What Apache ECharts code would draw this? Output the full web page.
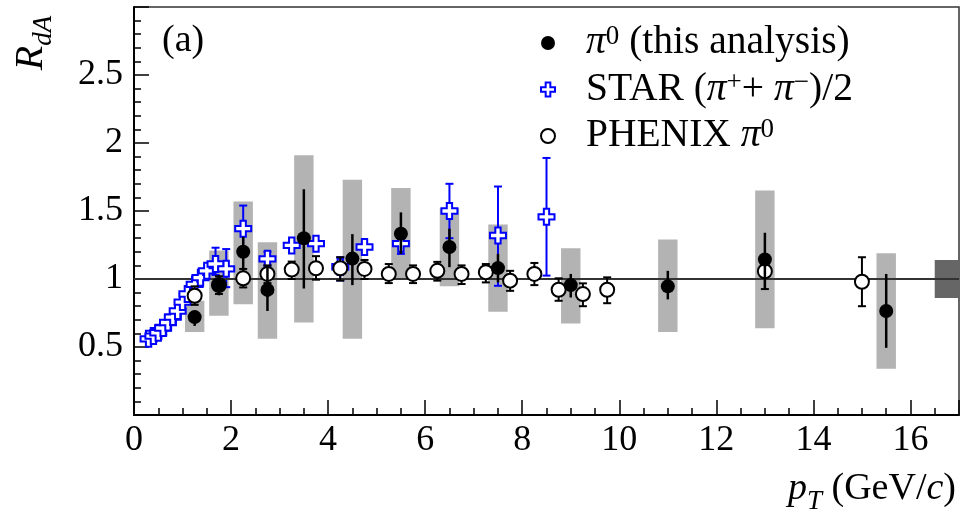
<!DOCTYPE html>
<html><head><meta charset="utf-8">
<script src="https://cdn.jsdelivr.net/npm/echarts@6/dist/echarts.min.js"></script>
<style>html,body{margin:0;padding:0;background:#fff}#c{width:964px;height:516px}</style>
</head><body><div id="c"></div>
<script>
// ---------------- data ----------------
const xTicks = [0, 2, 4, 6, 8, 10, 12, 14, 16];
const yTicks = [0.5, 1, 1.5, 2, 2.5];

const pi0X      = [1.25, 1.75, 2.25, 2.75, 3.5, 4.5, 5.5, 6.5, 7.5, 9, 11, 13, 15.5];
const pi0Y      = [0.72, 0.96, 1.20, 0.92, 1.30, 1.15, 1.333, 1.235, 1.08, 0.955, 0.946, 1.143, 0.765];
const pi0StatLo = [0.655, 0.88, 1.06, 0.765, 0.93, 0.955, 1.185, 1.087, 0.975, 0.864, 0.85, 0.926, 0.494];
const pi0StatHi = [0.765, 1.03, 1.31, 1.094, 1.66, 1.33, 1.49, 1.37, 1.185, 1.037, 1.06, 1.34, 1.037];
const pi0SysLo  = [0.61, 0.73, 0.815, 0.56, 0.68, 0.56, 1.0, 0.946, 0.76, 0.672, 0.61, 0.637, 0.34];
const pi0SysHi  = [0.84, 1.21, 1.57, 1.27, 1.91, 1.73, 1.67, 1.52, 1.40, 1.227, 1.29, 1.65, 1.19];

const phenixX  = [1.25, 1.75, 2.25, 2.75, 3.25, 3.75, 4.25, 4.75, 5.25, 5.75, 6.25, 6.75, 7.25, 7.75, 8.25, 8.75, 9.25, 9.75, 13, 15];
const phenixY  = [0.877, 0.956, 1.005, 1.037, 1.069, 1.079, 1.079, 1.074, 1.037, 1.037, 1.06, 1.037, 1.05, 0.988, 1.037, 0.921, 0.889, 0.921, 1.057, 0.98];
const phenixLo = [0.81, 0.89, 0.938, 0.97, 1.0, 0.995, 0.988, 1.0, 0.97, 0.97, 0.988, 0.963, 0.975, 0.913, 0.955, 0.84, 0.80, 0.822, 0.926, 0.80];
const phenixHi = [0.946, 1.02, 1.074, 1.10, 1.128, 1.168, 1.16, 1.14, 1.11, 1.10, 1.126, 1.10, 1.11, 1.06, 1.118, 1.005, 0.968, 1.012, 1.11, 1.16];

const starX  = [0.3, 0.4, 0.5, 0.6, 0.7, 0.8, 0.9, 1.0, 1.1, 1.25, 1.37, 1.5, 1.68, 1.9, 2.25, 2.75, 3.25, 3.75, 4.25, 4.75, 5.5, 6.5, 7.5, 8.5];
const starY  = [0.56, 0.58, 0.605, 0.64, 0.68, 0.72, 0.765, 0.83, 0.89, 0.96, 1.01, 1.06, 1.11, 1.075, 1.37, 1.148, 1.247, 1.26, 1.09, 1.235, 1.26, 1.50, 1.32, 1.457];
const starLo = [0.56, 0.58, 0.605, 0.64, 0.68, 0.72, 0.765, 0.83, 0.89, 0.96, 1.01, 1.06, 1.03, 0.94, 1.198, 1.10, 1.247, 1.26, 0.99, 1.235, 1.185, 1.30, 0.95, 1.025];
const starHi = [0.56, 0.58, 0.605, 0.64, 0.68, 0.72, 0.765, 0.83, 0.89, 0.96, 1.01, 1.06, 1.23, 1.22, 1.54, 1.20, 1.247, 1.26, 1.16, 1.235, 1.30, 1.70, 1.68, 1.89];

const normUnc = 0.14;   // normalisation uncertainty around unity
const unity = 1;

const names = {
  pi0: 'π0 (this analysis)',
  star: 'STAR (π+ + π−)/2',
  phenix: 'PHENIX π0'
};

// ---------------- helpers ----------------
const zip = (...arrs) => arrs[0].map((_, i) => arrs.map(a => a[i]));
const FONT = 'Liberation Serif';

function errBar(color, lw, cap) {
  return function (params, api) {
    const x = api.value(0), lo = api.value(1), hi = api.value(2);
    if (!(hi - lo > 0)) return null;
    const p1 = api.coord([x, lo]), p2 = api.coord([x, hi]);
    const st = { stroke: color, lineWidth: lw };
    const ch = [{ type: 'line', shape: { x1: p1[0], y1: p1[1], x2: p2[0], y2: p2[1] }, style: st }];
    if (cap) {
      ch.push({ type: 'line', shape: { x1: p1[0] - cap, y1: p1[1], x2: p1[0] + cap, y2: p1[1] }, style: st });
      ch.push({ type: 'line', shape: { x1: p2[0] - cap, y1: p2[1], x2: p2[0] + cap, y2: p2[1] }, style: st });
    }
    return { type: 'group', children: ch };
  };
}
function sysBox(params, api) {
  const x = api.value(0), lo = api.value(1), hi = api.value(2);
  const a = api.coord([x - 0.2, hi]), b = api.coord([x + 0.2, lo]);
  return { type: 'rect', shape: { x: a[0], y: a[1], width: b[0] - a[0], height: b[1] - a[1] }, style: { fill: '#b3b3b3' } };
}
function normBox(params, api) {
  const c = api.value(0), u = api.value(1);
  const a = api.coord([16.5, c + u]), b = api.coord([17, c - u]);
  return { type: 'rect', shape: { x: a[0], y: a[1], width: b[0] - a[0], height: b[1] - a[1] }, style: { fill: '#666666' } };
}

const crossPath = 'path://M3,0H6V3H9V6H6V9H3V6H0V3H3Z';

const chart = echarts.init(document.getElementById('c'), null, { renderer: 'canvas' });

const richBase = {
  sp: { width: 26 },
  t: { fontFamily: FONT, fontSize: 39.5, lineHeight: 40, color: '#000' },
  i: { fontFamily: FONT, fontSize: 39.5, lineHeight: 40, fontStyle: 'italic', color: '#000' },
  sup: { fontFamily: FONT, fontSize: 27, lineHeight: 24, verticalAlign: 'top', color: '#000' }
};

const option = {
  animation: false,
  backgroundColor: '#fff',
  grid: { left: 134, right: 5, top: 7, bottom: 101, show: true, borderColor: '#333', borderWidth: 1.5, backgroundColor: 'transparent' },
  xAxis: {
    type: 'value', min: 0, max: 17, interval: 2,
    axisLine: { show: true, onZero: false, lineStyle: { color: '#000', width: 2 } },
    axisTick: { show: true, inside: true, length: 15, lineStyle: { color: '#000', width: 1.5 } },
    minorTick: { show: true, splitNumber: 4, length: 7, lineStyle: { color: '#000', width: 1.5 } },
    splitLine: { show: false },
    axisLabel: {
      margin: 8, fontFamily: FONT, fontSize: 36, color: '#000',
      formatter: v => (xTicks.indexOf(v) >= 0 ? String(v) : '')
    }
  },
  yAxis: {
    type: 'value', min: 0, max: 3, interval: 0.5,
    axisLine: { show: true, onZero: false, lineStyle: { color: '#000', width: 2 } },
    axisTick: { show: true, inside: true, length: 15, lineStyle: { color: '#000', width: 1.5 } },
    minorTick: { show: true, splitNumber: 5, length: 7, lineStyle: { color: '#000', width: 1.5 } },
    splitLine: { show: false },
    axisLabel: {
      margin: 11, fontFamily: FONT, fontSize: 36, color: '#000',
      formatter: v => (yTicks.indexOf(v) >= 0 ? String(v) : '')
    }
  },
  legend: {
    orient: 'vertical', left: 535, top: 18, itemGap: 6.5, itemWidth: 14, itemHeight: 14,
    selectedMode: false,
    data: [names.pi0, names.star, names.phenix],
    formatter: function (n) {
      if (n === names.pi0) return '{sp| }{i|π}{sup|0}{t| (this analysis)}';
      if (n === names.star) return '{sp| }{t|STAR (}{i|π}{sup|+}{t|+ }{i|π}{sup|−}{t|)/2}';
      return '{sp| }{t|PHENIX }{i|π}{sup|0}';
    },
    textStyle: { fontFamily: FONT, fontSize: 39.5, color: '#000', rich: richBase }
  },
  graphic: [
    {
      type: 'text', left: 162, top: 22,
      style: { text: '(a)', font: '38px "Liberation Serif"', fill: '#000' }
    },
    {
      type: 'text', x: 31, y: 43, rotation: Math.PI / 2,
      style: {
        text: '{r|R}{s|dA}', align: 'center', verticalAlign: 'middle',
        rich: {
          r: { fontFamily: FONT, fontSize: 40, fontStyle: 'italic', lineHeight: 40, fill: '#000' },
          s: { fontFamily: FONT, fontSize: 27, fontStyle: 'italic', lineHeight: 27, verticalAlign: 'bottom', fill: '#000', padding: [0, 0, -6, 0] }
        }
      }
    },
    {
      type: 'text', right: 8, top: 470,
      style: {
        text: '{i|p}{s|T}{t| (GeV/}{i|c}{t|)}',
        rich: {
          t: { fontFamily: FONT, fontSize: 38, lineHeight: 40, fill: '#000' },
          i: { fontFamily: FONT, fontSize: 38, lineHeight: 40, fontStyle: 'italic', fill: '#000' },
          s: { fontFamily: FONT, fontSize: 27, lineHeight: 27, fontStyle: 'italic', verticalAlign: 'bottom', fill: '#000', padding: [0, 0, -6, 0] }
        }
      }
    }
  ],
  series: [
    {
      name: 'pi0 sys', type: 'custom', renderItem: sysBox, z: 1, silent: true,
      data: zip(pi0X, pi0SysLo, pi0SysHi), encode: { x: 0, y: [1, 2] }
    },
    {
      name: 'unity', type: 'line', z: 2, silent: true, data: [],
      markLine: {
        silent: true, symbol: 'none', label: { show: false },
        lineStyle: { color: '#333', width: 2, type: 'solid' },
        data: [{ yAxis: unity }]
      }
    },
    {
      name: 'norm', type: 'custom', renderItem: normBox, z: 3, silent: true,
      data: [[unity, normUnc]], encode: { x: -1, y: 0 }
    },
    {
      name: 'star err', type: 'custom', renderItem: errBar('#0000ff', 2, 4), z: 4, silent: true,
      data: zip(starX, starLo, starHi), encode: { x: 0, y: [1, 2] }
    },
    {
      name: names.star, type: 'scatter', z: 5, symbol: crossPath, symbolSize: 16,
      itemStyle: { color: '#ffffff', borderColor: '#0000ff', borderWidth: 2, opacity: 1 },
      data: zip(starX, starY)
    },
    {
      name: 'phenix err', type: 'custom', renderItem: errBar('#000', 2, 4), z: 6, silent: true,
      data: zip(phenixX, phenixLo, phenixHi), encode: { x: 0, y: [1, 2] }
    },
    {
      name: names.phenix, type: 'scatter', z: 7, symbol: 'circle', symbolSize: 14,
      itemStyle: { color: '#ffffff', borderColor: '#000', borderWidth: 2, opacity: 1 },
      data: zip(phenixX, phenixY)
    },
    {
      name: 'pi0 err', type: 'custom', renderItem: errBar('#000', 2.5, 0), z: 8, silent: true,
      data: zip(pi0X, pi0StatLo, pi0StatHi), encode: { x: 0, y: [1, 2] }
    },
    {
      name: names.pi0, type: 'scatter', z: 9, symbol: 'circle', symbolSize: 14,
      itemStyle: { color: '#000', opacity: 1 },
      data: zip(pi0X, pi0Y)
    }
  ]
};
chart.setOption(option);
</script>
</body></html>
